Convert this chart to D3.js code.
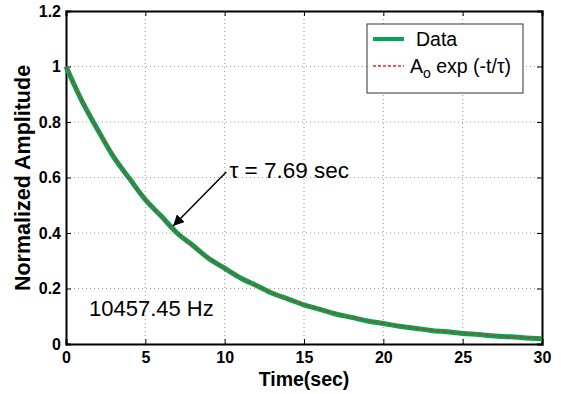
<!DOCTYPE html>
<html>
<head>
<meta charset="utf-8">
<script src="https://cdn.jsdelivr.net/npm/d3@7"></script>
<style>
  body { margin: 0; background: #fff; }
  text { font-family: "Liberation Sans", Arial, sans-serif; }
</style>
</head>
<body>
<div id="chart"></div>
<script>
// time (sec)
const times = d3.range(0, 31);
const dataValues = [1.000, 0.876, 0.772, 0.674, 0.596, 0.520, 0.461, 0.400, 0.355, 0.308,
  0.273, 0.238, 0.211, 0.183, 0.162, 0.141, 0.125, 0.108, 0.096, 0.083,
  0.074, 0.064, 0.057, 0.049, 0.044, 0.038, 0.034, 0.029, 0.026, 0.022, 0.019];
// fitted curve A0 exp(-t/tau)
const fitValues = [1.000, 0.878, 0.771, 0.677, 0.594, 0.522, 0.458, 0.402, 0.353, 0.310,
  0.272, 0.239, 0.210, 0.184, 0.162, 0.142, 0.125, 0.110, 0.096, 0.085,
  0.074, 0.065, 0.057, 0.050, 0.044, 0.039, 0.034, 0.030, 0.026, 0.023, 0.020];
const xTicks = [0, 5, 10, 15, 20, 25, 30];
const yTicks = [0, 0.2, 0.4, 0.6, 0.8, 1, 1.2];

const W = 561, H = 394;
const margin = { top: 11, right: 19, bottom: 50, left: 66 };
const width = W - margin.left - margin.right;
const height = H - margin.top - margin.bottom;

const svg = d3.select("#chart").append("svg").attr("width", W).attr("height", H);
const g = svg.append("g").attr("transform", `translate(${margin.left},${margin.top})`);

const x = d3.scaleLinear().domain([0, 30]).range([0, width]);
const y = d3.scaleLinear().domain([0, 1.2]).range([height, 0]);

// grid
g.selectAll(".gx").data(xTicks.slice(1, -1)).join("line")
  .attr("x1", d => x(d)).attr("x2", d => x(d)).attr("y1", 0).attr("y2", height)
  .attr("stroke", "#999").attr("stroke-dasharray", "1,3");
g.selectAll(".gy").data(yTicks.slice(1, -1)).join("line")
  .attr("y1", d => y(d)).attr("y2", d => y(d)).attr("x1", 0).attr("x2", width)
  .attr("stroke", "#999").attr("stroke-dasharray", "1,3");

// axes
const xAxis = g.append("g").attr("transform", `translate(0,${height})`)
  .call(d3.axisBottom(x).tickValues(xTicks).tickSize(-5).tickPadding(8).tickFormat(d3.format("d")));
const xTop = g.append("g").call(d3.axisTop(x).tickValues(xTicks).tickSize(-5).tickFormat(""));
const yAxis = g.append("g")
  .call(d3.axisLeft(y).tickValues(yTicks).tickSize(-5).tickPadding(5).tickFormat(d => d3.format("")(+d.toFixed(1))));
const yRight = g.append("g").attr("transform", `translate(${width},0)`)
  .call(d3.axisRight(y).tickValues(yTicks).tickSize(-5).tickFormat(""));
[xAxis, xTop, yAxis, yRight].forEach(a => {
  a.select(".domain").attr("stroke", "#000").attr("stroke-width", 2);
  a.selectAll(".tick line").attr("stroke", "#000");
  a.selectAll("text").attr("font-size", 16).attr("font-weight", "bold").attr("fill", "#000")
    .attr("font-family", "Liberation Sans, Arial, sans-serif");
});

// curves
const line = d3.line().x(d => x(d[0])).y(d => y(d[1])).curve(d3.curveMonotoneX);
g.append("path").datum(times.map((t, i) => [t, dataValues[i]]))
  .attr("d", line).attr("fill", "none").attr("stroke", "#00a651").attr("stroke-width", 5);
g.append("path").datum(times.map((t, i) => [t, fitValues[i]]))
  .attr("d", line).attr("fill", "none").attr("stroke", "#ee2222").attr("stroke-width", 1.5)
  .attr("stroke-dasharray", "4,3");

// annotation
svg.append("defs").append("marker").attr("id", "arr").attr("viewBox", "0 0 10 10")
  .attr("refX", 10).attr("refY", 5).attr("markerWidth", 11).attr("markerHeight", 11)
  .attr("markerUnits", "userSpaceOnUse").attr("orient", "auto")
  .append("path").attr("d", "M0,0 L10,5 L0,10 z").attr("fill", "#000");
g.append("line")
  .attr("x1", x(10.1)).attr("y1", y(0.62))
  .attr("x2", x(6.75)).attr("y2", y(0.425))
  .attr("stroke", "#000").attr("stroke-width", 1.5).attr("marker-end", "url(#arr)");
g.append("text").attr("x", x(10.3)).attr("y", y(0.6)).attr("font-size", 22.5)
  .text("τ = 7.69 sec");
g.append("text").attr("x", x(1.45)).attr("y", y(0.101)).attr("font-size", 22)
  .text("10457.45 Hz");

// legend
const lg = svg.append("g").attr("transform", "translate(367,24)");
lg.append("rect").attr("width", 156).attr("height", 69).attr("fill", "#fff")
  .attr("stroke", "#333").attr("stroke-width", 1);
lg.append("line").attr("x1", 6).attr("x2", 37).attr("y1", 15).attr("y2", 15)
  .attr("stroke", "#00a651").attr("stroke-width", 4);
lg.append("text").attr("x", 49).attr("y", 22).attr("font-size", 19.5).text("Data");
lg.append("line").attr("x1", 6).attr("x2", 37).attr("y1", 42).attr("y2", 42)
  .attr("stroke", "#ee2222").attr("stroke-width", 1.5).attr("stroke-dasharray", "3,2");
const ft = lg.append("text").attr("x", 43).attr("y", 49).attr("font-size", 19.5);
ft.append("tspan").text("A");
ft.append("tspan").attr("font-size", 14).attr("dy", 5).text("o");
ft.append("tspan").attr("dy", -5).text(" exp (-t/τ)");

// axis labels
svg.append("text").attr("x", 304).attr("y", 386)
  .attr("text-anchor", "middle").attr("font-size", 19.5).attr("font-weight", "bold")
  .text("Time(sec)");
svg.append("text").attr("transform", "translate(30,178) rotate(-90)")
  .attr("text-anchor", "middle").attr("font-size", 21.5).attr("font-weight", "bold")
  .text("Normalized Amplitude");
</script>
</body>
</html>
